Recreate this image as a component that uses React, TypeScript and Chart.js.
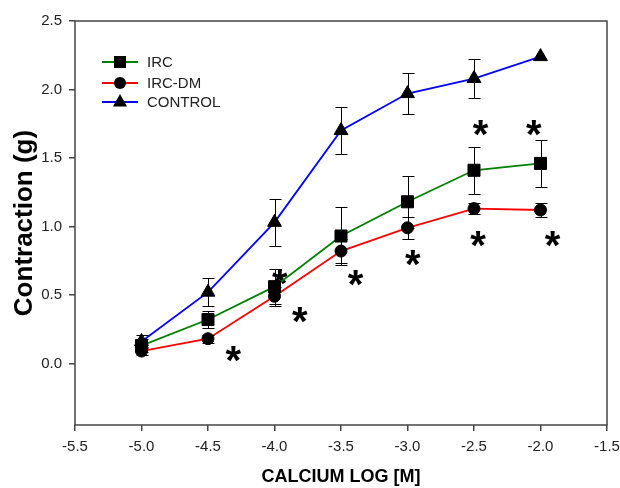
import React, { useEffect, useRef } from "react";
import { Chart, registerables } from "chart.js";

Chart.register(...registerables);

const X_VALUES = [-5.0, -4.5, -4.0, -3.5, -3.0, -2.5, -2.0];
const IRC = [0.13, 0.32, 0.56, 0.93, 1.18, 1.41, 1.46];
const IRC_ERR = [0.05, 0.06, 0.13, 0.21, 0.19, 0.17, 0.17];
const IRC_DM = [0.09, 0.18, 0.49, 0.82, 0.99, 1.13, 1.12];
const IRC_DM_ERR = [0.03, 0.03, 0.07, 0.085, 0.08, 0.04, 0.05];
const CONTROL = [0.16, 0.52, 1.03, 1.7, 1.97, 2.08, 2.24];
const CONTROL_ERR = [0.05, 0.1, 0.17, 0.17, 0.15, 0.14, 0.0];

const STAR_X = [-4.31, -3.96, -3.81, -3.39, -2.96, -2.47, -1.91, -2.45, -2.05];
const STAR_Y = [0.07, 0.63, 0.35, 0.62, 0.77, 0.91, 0.91, 1.72, 1.72];

const Y_TICKS = [0, 0.5, 1.0, 1.5, 2.0, 2.5];
const X_MIN = -5.5;
const X_MAX = -1.5;
const Y_MIN = -0.45;
const Y_MAX = 2.5;

const SERIES_NAMES = ["IRC", "IRC-DM", "CONTROL"];
const SERIES_COLORS = ["#008000", "#ff0000", "#0000ff"];
const SERIES_STYLES = ["rect", "circle", "triangle"];

const FONT = "'Liberation Sans', Arial, sans-serif";

function drawMarker(ctx: CanvasRenderingContext2D, style: string, x: number, y: number) {
  ctx.save();
  ctx.fillStyle = "#000";
  ctx.beginPath();
  if (style === "rect") {
    ctx.rect(x - 6, y - 6, 12, 12);
  } else if (style === "circle") {
    ctx.arc(x, y, 6, 0, Math.PI * 2);
  } else {
    ctx.moveTo(x, y - 8);
    ctx.lineTo(x + 7, y + 4.5);
    ctx.lineTo(x - 7, y + 4.5);
    ctx.closePath();
  }
  ctx.fill();
  ctx.restore();
}

const framePlugin = {
  id: "frame",
  beforeDatasetsDraw(chart: any) {
    const { ctx, scales } = chart;
    const xs = scales.x;
    const ys = scales.y;
    ctx.save();
    ctx.fillStyle = "#000";
    ctx.font = `bold 40px ${FONT}`;
    ctx.textAlign = "center";
    ctx.textBaseline = "alphabetic";
    const m = ctx.measureText("*");
    const off = (m.actualBoundingBoxAscent - m.actualBoundingBoxDescent) / 2;
    for (let i = 0; i < STAR_X.length; i++) {
      const px = xs.getPixelForValue(STAR_X[i]);
      const py = ys.getPixelForValue(STAR_Y[i]);
      ctx.fillText("*", px, py + off);
    }
    ctx.restore();
  },
  afterDatasetsDraw(chart: any) {
    const { ctx, scales, chartArea } = chart;
    const xs = scales.x;
    const ys = scales.y;
    const sets = [
      [IRC, IRC_ERR],
      [IRC_DM, IRC_DM_ERR],
      [CONTROL, CONTROL_ERR],
    ];
    ctx.save();
    ctx.strokeStyle = "#000";
    ctx.lineWidth = 1;
    for (const [vals, errs] of sets) {
      for (let i = 0; i < X_VALUES.length; i++) {
        if (!errs[i]) continue;
        const px = Math.round(xs.getPixelForValue(X_VALUES[i])) + 0.5;
        const top = Math.round(ys.getPixelForValue(vals[i] + errs[i])) + 0.5;
        const bot = Math.round(ys.getPixelForValue(vals[i] - errs[i])) + 0.5;
        ctx.beginPath();
        ctx.moveTo(px, top);
        ctx.lineTo(px, bot);
        ctx.moveTo(px - 6, top);
        ctx.lineTo(px + 6, top);
        ctx.moveTo(px - 6, bot);
        ctx.lineTo(px + 6, bot);
        ctx.stroke();
      }
    }
    // frame
    ctx.strokeStyle = "#444";
    ctx.lineWidth = 1.5;
    ctx.strokeRect(chartArea.left, chartArea.top, chartArea.right - chartArea.left, chartArea.bottom - chartArea.top);

    // legend
    const lx = chartArea.left + 27;
    const rows = [chartArea.top + 41, chartArea.top + 62, chartArea.top + 81];
    ctx.font = `15px ${FONT}`;
    ctx.textAlign = "left";
    ctx.textBaseline = "middle";
    for (let i = 0; i < SERIES_NAMES.length; i++) {
      const y = rows[i];
      ctx.strokeStyle = SERIES_COLORS[i];
      ctx.lineWidth = 1.8;
      ctx.beginPath();
      ctx.moveTo(lx, y);
      ctx.lineTo(lx + 36, y);
      ctx.stroke();
      drawMarker(ctx, SERIES_STYLES[i], lx + 18, y);
      ctx.fillStyle = "#222";
      ctx.fillText(SERIES_NAMES[i], lx + 45, y + 1);
    }
    ctx.restore();
  },
};

export default function App() {
  const ref = useRef<HTMLCanvasElement | null>(null);
  useEffect(() => {
    if (!ref.current) return;
    const mk = (vals: number[]) => X_VALUES.map((x, i) => ({ x, y: vals[i] }));
    const seriesVals = [IRC, IRC_DM, CONTROL];
    const chart = new Chart(ref.current, {
      type: "line",
      data: {
        datasets: SERIES_NAMES.map((name, i) => ({
          label: name,
          data: mk(seriesVals[i]),
          borderColor: SERIES_COLORS[i],
          backgroundColor: "#000",
          borderWidth: 1.8,
          pointStyle: SERIES_STYLES[i] as any,
          pointRadius: i === 0 ? 8.5 : i === 1 ? 6 : 8,
          pointBackgroundColor: "#000",
          pointBorderColor: "#000",
          pointBorderWidth: 1,
          tension: 0,
        })),
      },
      options: {
        animation: false,
        responsive: false,
        devicePixelRatio: 1,
        layout: { padding: { top: 21, right: 13, left: 0, bottom: 0 } },
        plugins: {
          legend: { display: false },
          tooltip: { enabled: false },
        },
        scales: {
          x: {
            type: "linear",
            min: X_MIN,
            max: X_MAX,
            afterFit: (s: any) => {
              s.height = 63;
              s.paddingLeft = 0;
              s.paddingRight = 0;
            },
            ticks: {
              stepSize: 0.5,
              color: "#222",
              font: { family: FONT, size: 15 },
              padding: 7,
              maxRotation: 0,
              callback: (v: any) => Number(v).toFixed(1),
            },
            grid: { drawOnChartArea: false, drawTicks: true, tickLength: 6, color: "#444", lineWidth: 1.5 },
            border: { display: false },
            title: {
              display: true,
              text: "CALCIUM LOG [M]",
              color: "#000",
              font: { family: FONT, size: 18, weight: "bold" },
              padding: { top: 0, bottom: 0 },
            },
          },
          y: {
            type: "linear",
            min: Y_MIN,
            max: Y_MAX,
            afterFit: (s: any) => {
              s.width = 75;
              s.paddingTop = 0;
              s.paddingBottom = 0;
            },
            afterBuildTicks: (s: any) => {
              s.ticks = Y_TICKS.map((v) => ({ value: v }));
            },
            ticks: {
              color: "#222",
              font: { family: FONT, size: 15 },
              padding: 7,
              callback: (v: any) => Number(v).toFixed(1),
            },
            grid: { drawOnChartArea: false, drawTicks: true, tickLength: 6, color: "#444", lineWidth: 1.5 },
            border: { display: false },
            title: {
              display: true,
              text: "Contraction (g)",
              color: "#000",
              font: { family: FONT, size: 26, weight: "bold" },
              padding: { top: 9, bottom: 0 },
            },
          },
        },
      },
      plugins: [framePlugin],
    });
    return () => chart.destroy();
  }, []);
  return (
    <div style={{ position: "fixed", left: 0, top: 0, width: 620, height: 488, background: "#fff" }}>
      <canvas ref={ref} width={620} height={488} />
    </div>
  );
}
